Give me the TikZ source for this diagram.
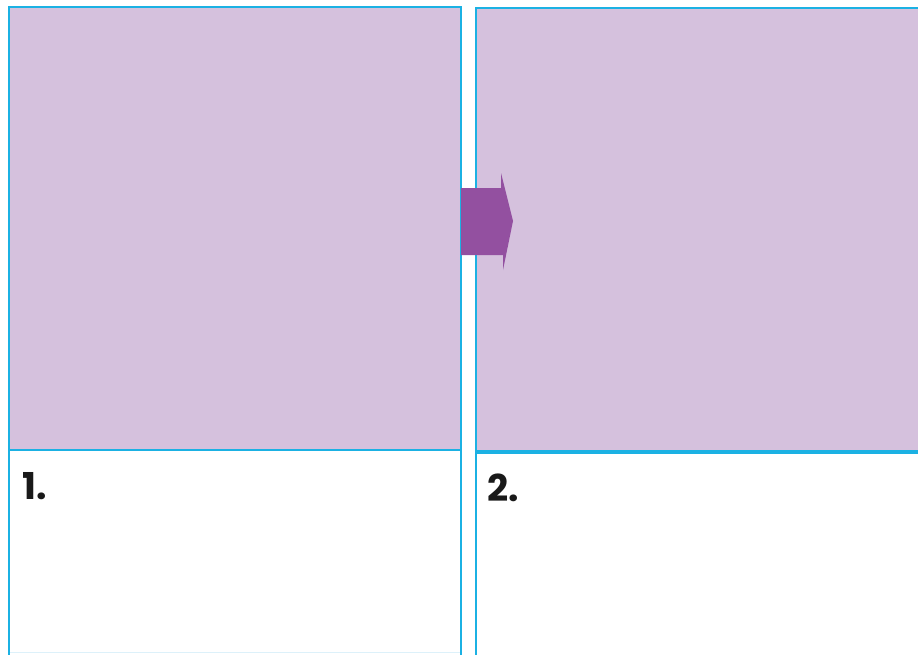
\documentclass[tikz,border=0pt]{standalone}
\usepackage{fontspec}
\newfontfamily\labfont{Poppins}
\definecolor{panelfill}{HTML}{D5C1DD}
\definecolor{edgeblue}{HTML}{1BB1E3}
\definecolor{arrowpurple}{HTML}{9350A0}
\definecolor{faintblue}{HTML}{DDF1FA}
\begin{document}
\begin{tikzpicture}[x=1pt,y=-1pt,
  edge/.style={draw=edgeblue,line width=2pt},
  numlabel/.style={anchor=base west,inner sep=0pt,font=\labfont\bfseries\fontsize{37}{40}\selectfont,text=black!90}]
\useasboundingbox (0,0) rectangle (918,654);
% left panel
\fill[panelfill] (9,7) rectangle (461,449.5);
\draw[faintblue,line width=1pt] (9,652.5) -- (461,652.5);
\draw[edgeblue,line width=2pt] (9,660) -- (9,7) -- (461,7) -- (461,660);
\draw[edgeblue,line width=2.5pt] (9,450) -- (461,450);
% right panel
\fill[panelfill] (476,8) rectangle (925,451);
\draw[edgeblue,line width=2pt] (476,660) -- (476,8) -- (925,8);
\draw[edgeblue,line width=3.5pt] (476,452) -- (925,452);
% arrow
\fill[arrowpurple] (461,188) -- (501,188) -- (501,173) -- (513,221) -- (503,270) -- (503,255) -- (461,255) -- cycle;
% labels
\node[numlabel] (l1) at (22,499) {1.};
\node[numlabel] (l2) at (487,501) {2.};
\end{tikzpicture}
\end{document}
